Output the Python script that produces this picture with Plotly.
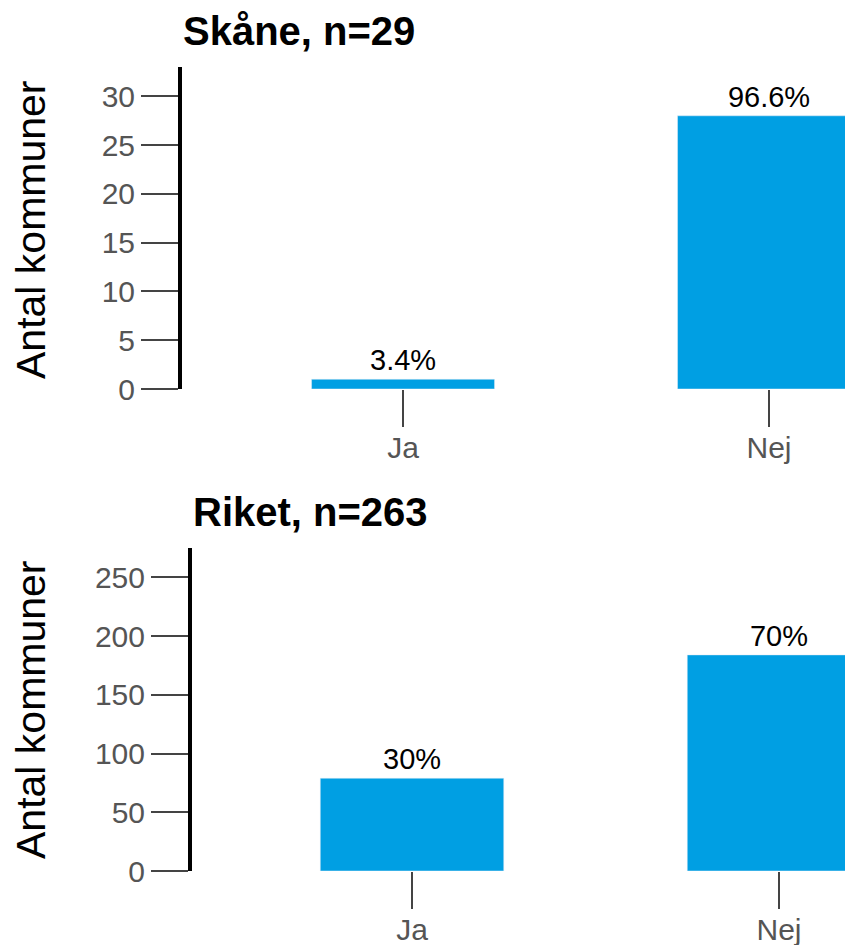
import plotly.graph_objects as go

categories = ["Ja", "Nej"]
skane_counts = [1, 28]
skane_labels = ["3.4%", "96.6%"]
riket_counts = [79, 184]
riket_labels = ["30%", "70%"]
skane_title = "Skåne, n=29"
riket_title = "Riket, n=263"
y_title = "Antal kommuner"

# page body has an 8px margin; size the figure so it fills the 853x945 window
OFF = 8
W, H = 853 - OFF, 945 - OFF
BAR = "#009FE3"
FONT = "Liberation Sans, Arial, sans-serif"


def fx(p):
    return (p - OFF) / W


def fy(p):
    return 1 - (p - OFF) / H


fig = go.Figure()
fig.add_trace(go.Bar(x=categories, y=skane_counts, text=skane_labels, textposition="outside",
                     marker_color=BAR, width=0.5, xaxis="x", yaxis="y",
                     textfont=dict(size=29, color="black", family=FONT), cliponaxis=False))
fig.add_trace(go.Bar(x=categories, y=riket_counts, text=riket_labels, textposition="outside",
                     marker_color=BAR, width=0.5, xaxis="x2", yaxis="y2",
                     textfont=dict(size=29, color="black", family=FONT), cliponaxis=False))

xcommon = dict(showline=False, showgrid=False, zeroline=False, ticks="outside", ticklen=37,
               tickwidth=2, tickcolor="#444", automargin=False, ticklabelstandoff=-5,
               tickfont=dict(size=30, color="#555", family=FONT))
ycommon = dict(showline=True, linewidth=4, linecolor="black", showgrid=False, zeroline=False,
               ticks="outside", ticklen=37, tickwidth=2, tickcolor="#444", automargin=False,
               tickfont=dict(size=30, color="#555", family=FONT))

fig.update_layout(
    width=W, height=H, margin=dict(l=0, r=0, t=0, b=0, autoexpand=False),
    paper_bgcolor="white", plot_bgcolor="white", showlegend=False,
    font=dict(family=FONT),
    xaxis=dict(domain=[fx(182), 1], range=[-0.604, 1.2295], anchor="y", **xcommon),
    yaxis=dict(domain=[fy(389), fy(67)], range=[0, 33], tickvals=[0, 5, 10, 15, 20, 25, 30],
               anchor="x", **ycommon),
    xaxis2=dict(domain=[fx(192), 1], range=[-0.5995, 1.2016], anchor="y2", **xcommon),
    yaxis2=dict(domain=[fy(871), fy(548)], range=[0, 275], tickvals=[0, 50, 100, 150, 200, 250],
                anchor="x2", **ycommon),
)

ann = []
ann.append(dict(text="<b>" + skane_title + "</b>", x=fx(299), y=fy(31), xref="paper", yref="paper",
                showarrow=False, font=dict(size=40, color="black", family=FONT), xanchor="center", yanchor="middle"))
ann.append(dict(text="<b>" + riket_title + "</b>", x=fx(310), y=fy(512), xref="paper", yref="paper",
                showarrow=False, font=dict(size=40, color="black", family=FONT), xanchor="center", yanchor="middle"))
ann.append(dict(text=y_title, x=fx(31), y=fy(230), xref="paper", yref="paper", textangle=-90,
                showarrow=False, font=dict(size=41, color="black", family=FONT), xanchor="center", yanchor="middle"))
ann.append(dict(text=y_title, x=fx(31), y=fy(710), xref="paper", yref="paper", textangle=-90,
                showarrow=False, font=dict(size=41, color="black", family=FONT), xanchor="center", yanchor="middle"))
fig.update_layout(annotations=ann)

fig.write_html("out.html")
